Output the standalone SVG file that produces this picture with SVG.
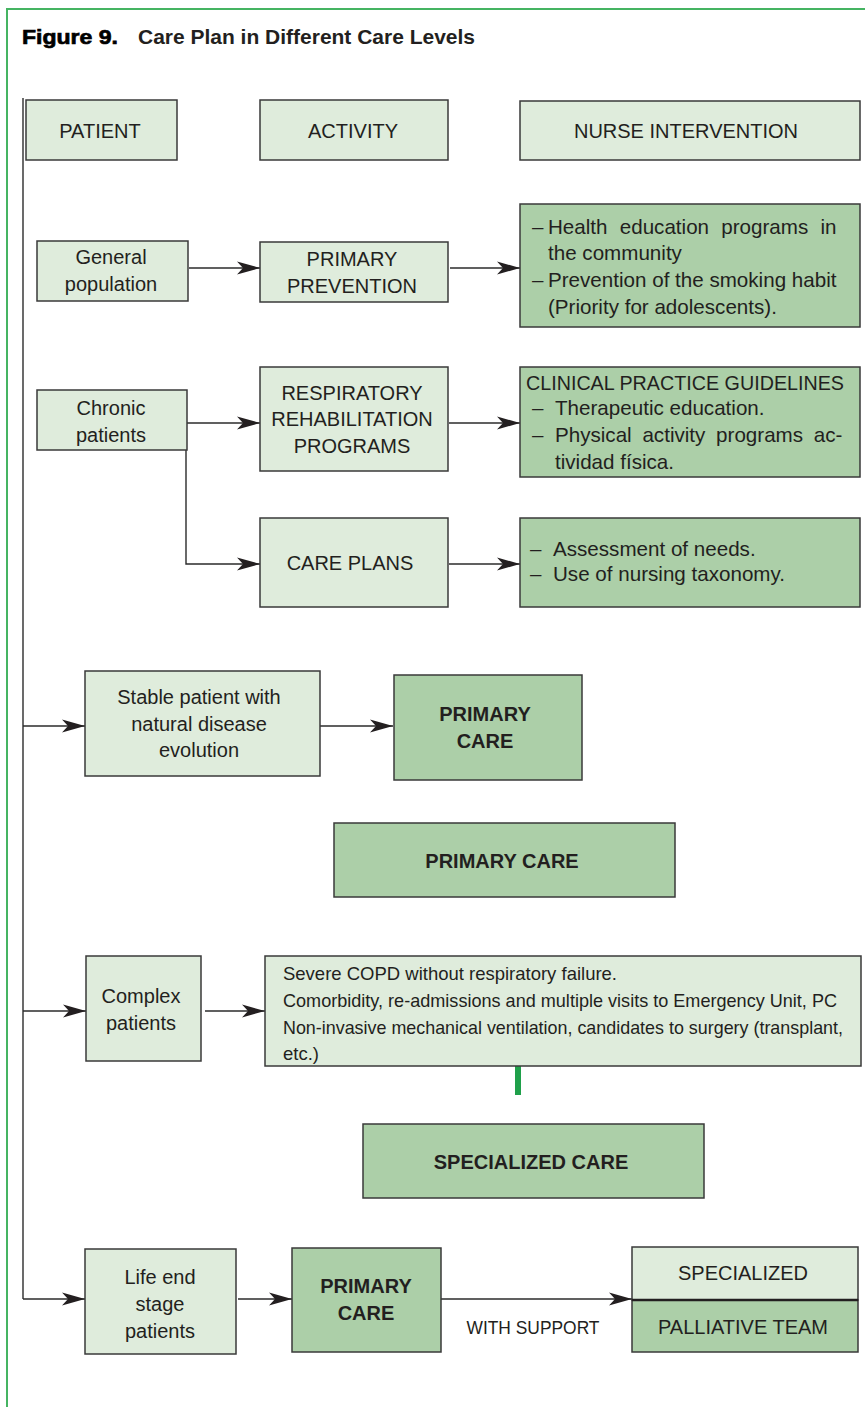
<svg xmlns="http://www.w3.org/2000/svg" width="865" height="1407" viewBox="0 0 865 1407">
<defs>
<style>
text{font-family:"Liberation Sans",Arial,Helvetica,sans-serif;fill:#231f20;}
.t{font-size:20px;}
.r{font-size:20.6px;}
.c{text-anchor:middle;}
.b{font-weight:bold;}
.s{font-size:18.5px;}
.lt{fill:#dfecdc;stroke:#3a3a3a;stroke-width:1.5;}
.dk{fill:#accfa8;stroke:#3a3a3a;stroke-width:1.5;}
.ln{fill:none;stroke:#2b2b2b;stroke-width:1.4;}
.ar{marker-end:url(#ah);}
</style>
<marker id="ah" markerWidth="24" markerHeight="14" refX="23" refY="7" orient="auto" markerUnits="userSpaceOnUse">
<path d="M0,0.5 L23,7 L0,13.5 L6,7 Z" fill="#231f20"/>
</marker>
</defs>
<rect width="865" height="1407" fill="#ffffff"/>
<g id="frame">
<path d="M7,1407 V9 H865" fill="none" stroke="#45b462" stroke-width="2"/>
</g>
<g id="title">
<text x="22" y="44" font-size="21" font-weight="bold" stroke="#000" stroke-width="0.7" textLength="96" lengthAdjust="spacingAndGlyphs" style="fill:#000">Figure 9.</text>
<text x="138" y="44" font-size="21" font-weight="bold" textLength="337" lengthAdjust="spacingAndGlyphs">Care Plan in Different Care Levels</text>
</g>
<g id="connectors">
<path class="ln" d="M23,98 V1299"/>
<path class="ln ar" d="M23,1299 H85"/>
<path class="ln ar" d="M23,726 H85"/>
<path class="ln ar" d="M23,1011 H86"/>
<path class="ln ar" d="M189,268 H260"/>
<path class="ln ar" d="M450,268 H520"/>
<path class="ln ar" d="M187,423 H260"/>
<path class="ln ar" d="M186,450 V564 H260"/>
<path class="ln ar" d="M449,423 H520"/>
<path class="ln ar" d="M449,564 H520"/>
<path class="ln ar" d="M320,726 H393"/>
<path class="ln ar" d="M205,1011 H265"/>
<path class="ln ar" d="M238,1299 H292"/>
<path class="ln ar" d="M441,1299 H632"/>
<rect x="515" y="1065" width="6" height="30" fill="#1fa04a"/>
</g>
<g id="patient">
<rect class="lt" x="26" y="100" width="151" height="60"/>
<text class="t c" x="100" y="138">PATIENT</text>
</g>
<g id="activity">
<rect class="lt" x="260" y="100" width="188" height="60"/>
<text class="t c" x="353" y="138">ACTIVITY</text>
</g>
<g id="nurse">
<rect class="lt" x="520" y="101" width="340" height="59"/>
<text class="t c" x="686" y="138">NURSE INTERVENTION</text>
</g>
<g id="general">
<rect class="lt" x="37" y="241" width="151" height="60"/>
<text class="t c" x="111" y="264">General</text>
<text class="t c" x="111" y="291">population</text>
</g>
<g id="primprev">
<rect class="lt" x="260" y="242" width="188" height="60"/>
<text class="t c" x="352" y="266">PRIMARY</text>
<text class="t c" x="352" y="293">PREVENTION</text>
</g>
<g id="healthed">
<rect class="dk" x="520" y="204" width="340" height="123"/>
<text class="r" x="532" y="234">–</text>
<text class="r" x="548" y="234" word-spacing="6.5">Health education programs in</text>
<text class="r" x="548" y="260">the community</text>
<text class="r" x="532" y="287">–</text>
<text class="r" x="548" y="287">Prevention of the smoking habit</text>
<text class="r" x="548" y="314">(Priority for adolescents).</text>
</g>
<g id="chronic">
<rect class="lt" x="37" y="390" width="150" height="60"/>
<text class="t c" x="111" y="415">Chronic</text>
<text class="t c" x="111" y="442">patients</text>
</g>
<g id="resp">
<rect class="lt" x="260" y="367" width="188" height="104"/>
<text class="t c" x="352" y="400">RESPIRATORY</text>
<text class="t c" x="352" y="426">REHABILITATION</text>
<text class="t c" x="352" y="453">PROGRAMS</text>
</g>
<g id="clinical">
<rect class="dk" x="520" y="367" width="340" height="110"/>
<text class="r" x="526" y="390" textLength="318" lengthAdjust="spacingAndGlyphs">CLINICAL PRACTICE GUIDELINES</text>
<text class="r" x="532" y="415">–</text>
<text class="r" x="555" y="415">Therapeutic education.</text>
<text class="r" x="532" y="442">–</text>
<text class="r" x="555" y="442" word-spacing="5">Physical activity programs ac-</text>
<text class="r" x="555" y="469">tividad física.</text>
</g>
<g id="careplans">
<rect class="lt" x="260" y="518" width="188" height="89"/>
<text class="t c" x="350" y="570">CARE PLANS</text>
</g>
<g id="assessment">
<rect class="dk" x="520" y="518" width="340" height="89"/>
<text class="r" x="530" y="556">–</text>
<text class="r" x="553" y="556">Assessment of needs.</text>
<text class="r" x="530" y="581">–</text>
<text class="r" x="553" y="581">Use of nursing taxonomy.</text>
</g>
<g id="stable">
<rect class="lt" x="85" y="671" width="235" height="105"/>
<text class="t c" x="199" y="704">Stable patient with</text>
<text class="t c" x="199" y="731">natural disease</text>
<text class="t c" x="199" y="757">evolution</text>
</g>
<g id="pc1">
<rect class="dk" x="394" y="675" width="188" height="105"/>
<text class="t c b" x="485" y="721">PRIMARY</text>
<text class="t c b" x="485" y="748">CARE</text>
</g>
<g id="pc2">
<rect class="dk" x="334" y="823" width="341" height="74"/>
<text class="t c b" x="502" y="868">PRIMARY CARE</text>
</g>
<g id="complex">
<rect class="lt" x="86" y="956" width="115" height="105"/>
<text class="t c" x="141" y="1003">Complex</text>
<text class="t c" x="141" y="1030">patients</text>
</g>
<g id="severe">
<rect class="lt" x="265" y="956" width="596" height="110"/>
<text class="s" x="283" y="980" textLength="334" lengthAdjust="spacingAndGlyphs">Severe COPD without respiratory failure.</text>
<text class="s" x="283" y="1007" textLength="554" lengthAdjust="spacingAndGlyphs">Comorbidity, re-admissions and multiple visits to Emergency Unit, PC</text>
<text class="s" x="283" y="1034" textLength="560" lengthAdjust="spacingAndGlyphs">Non-invasive mechanical ventilation, candidates to surgery (transplant,</text>
<text class="s" x="283" y="1060">etc.)</text>
</g>
<g id="specialized">
<rect class="dk" x="363" y="1124" width="341" height="74"/>
<text class="t c b" x="531" y="1169">SPECIALIZED CARE</text>
</g>
<g id="lifeend">
<rect class="lt" x="85" y="1249" width="151" height="105"/>
<text class="t c" x="160" y="1284">Life end</text>
<text class="t c" x="160" y="1311">stage</text>
<text class="t c" x="160" y="1338">patients</text>
</g>
<g id="pc3">
<rect class="dk" x="292" y="1248" width="149" height="104"/>
<text class="t c b" x="366" y="1293">PRIMARY</text>
<text class="t c b" x="366" y="1320">CARE</text>
</g>
<g id="support-label">
<text class="c" x="533" y="1334" font-size="19" textLength="133" lengthAdjust="spacingAndGlyphs">WITH SUPPORT</text>
</g>
<g id="palliative">
<rect class="lt" x="632" y="1247" width="226" height="53"/>
<rect class="dk" x="632" y="1300" width="226" height="52"/>
<line x1="632" y1="1300" x2="858" y2="1300" stroke="#231f20" stroke-width="2.5"/>
<text class="t c" x="743" y="1280">SPECIALIZED</text>
<text class="t c" x="743" y="1334">PALLIATIVE TEAM</text>
</g>
</svg>
